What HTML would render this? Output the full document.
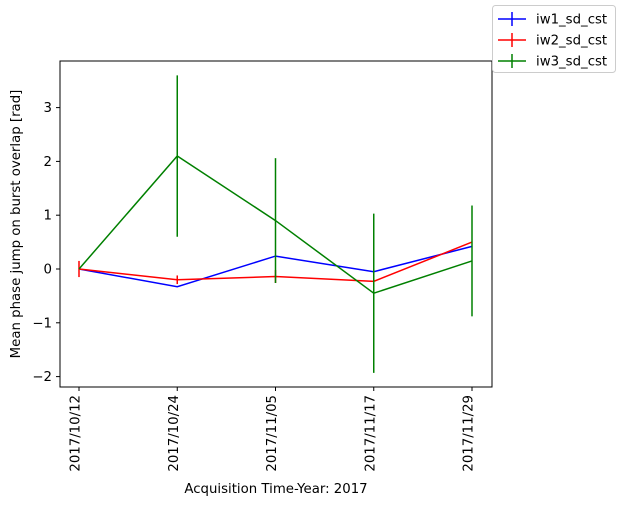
<!DOCTYPE html>
<html><head><style>
body{margin:0;background:#fff;}
svg text{font-family:"DejaVu Sans","Liberation Sans",sans-serif;font-size:13.3px;fill:#000;}
</style></head><body>
<svg id="chart" width="622" height="506"></svg>
<script>
const categories=["2017/10/12","2017/10/24","2017/11/05","2017/11/17","2017/11/29"];
const iw1Values=[0,-0.33,0.24,-0.05,0.42];
const iw1Errors=[0,0,0,0,0];
const iw2Values=[0,-0.2,-0.14,-0.23,0.5];
const iw2Errors=[0.15,0.08,0.12,0,0];
const iw3Values=[0,2.1,0.9,-0.45,0.15];
const iw3Errors=[0,1.5,1.16,1.48,1.03];
const yTicks=[-2,-1,0,1,2,3];
const seriesNames=["iw1_sd_cst","iw2_sd_cst","iw3_sd_cst"];
const NS="http://www.w3.org/2000/svg";
const svg=document.getElementById("chart");
const L=60,R=492,T=61,B=387;
const x=i=>79+i*98.25;
const y=v=>269-v*53.8;
function mk(tag,attrs,parent){const e=document.createElementNS(NS,tag);for(const k in attrs)e.setAttribute(k,attrs[k]);(parent||svg).appendChild(e);return e;}
const series=[[iw1Values,iw1Errors,"#0000ff"],[iw2Values,iw2Errors,"#ff0000"],[iw3Values,iw3Errors,"#008000"]];
series.forEach((s,si)=>{
  const g=mk("g",{});
  
  
  const pts=s[0].map((v,i)=>x(i)+","+y(v)).join(" ");
  mk("polyline",{points:pts,fill:"none",stroke:s[2],"stroke-width":1.5},g);
  s[0].forEach((v,i)=>{if(s[1][i]>0){
    const eb=mk("line",{x1:x(i),x2:x(i),y1:y(v-s[1][i]),y2:y(v+s[1][i]),stroke:s[2],"stroke-width":1.5},g);
    
    
  }});
});
const frame=mk("rect",{x:L,y:T,width:R-L,height:B-T,fill:"none",stroke:"#000","stroke-width":1});


yTicks.forEach(t=>{
  mk("line",{x1:L-4,x2:L,y1:y(t),y2:y(t),stroke:"#000"});
  const tx=mk("text",{x:L-8,y:y(t)+4.5,"text-anchor":"end"});tx.textContent=t<0?"\u2212"+(-t):t;
  
  
});
categories.forEach((c,i)=>{
  mk("line",{x1:x(i),x2:x(i),y1:B,y2:B+4,stroke:"#000"});
  const bx=x(i)+0.5;
  const tx=mk("text",{x:bx,y:B+8,"text-anchor":"end",transform:`rotate(-90 ${bx} ${B+8})`});tx.textContent=c;
  
  
});
const xt=mk("text",{x:276,y:493,"text-anchor":"middle"});xt.textContent="Acquisition Time-Year: 2017";


const yt=mk("text",{x:20,y:224,"text-anchor":"middle",transform:"rotate(-90 20 224)"});yt.textContent="Mean phase jump on burst overlap [rad]";


const lg=mk("g",{});


mk("rect",{x:492.5,y:5.5,width:123,height:67,rx:3,fill:"#fff",stroke:"#ccc"},lg);
series.forEach((s,i)=>{
  const cy=19+i*21;
  mk("line",{x1:498,x2:526,y1:cy,y2:cy,stroke:s[2],"stroke-width":1.5},lg);
  mk("line",{x1:512,x2:512,y1:cy-7,y2:cy+7,stroke:s[2],"stroke-width":1.5},lg);
  const t=mk("text",{x:536,y:cy+4.5},lg);t.textContent=seriesNames[i];
  
  
});
</script>
</body></html>
